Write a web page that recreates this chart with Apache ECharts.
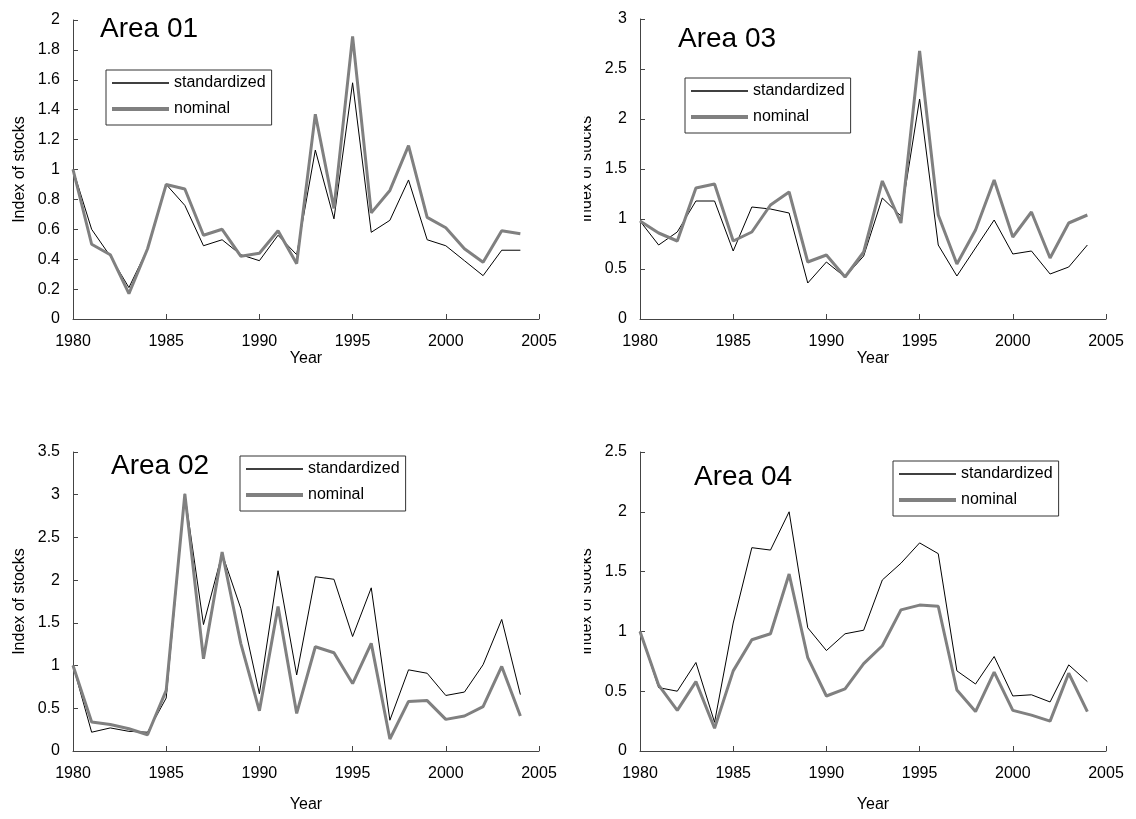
<!DOCTYPE html>
<html>
<head>
<meta charset="utf-8">
<script src="https://cdn.jsdelivr.net/npm/echarts@6/dist/echarts.min.js"></script>
<style>
html,body{margin:0;padding:0;background:#fff;}
#chart{width:1136px;height:819px;}
</style>
</head>
<body>
<div id="chart"></div>
<script>
var years = [1980,1981,1982,1983,1984,1985,1986,1987,1988,1989,1990,1991,1992,1993,1994,1995,1996,1997,1998,1999,2000,2001,2002,2003,2004];

var area01Std = [1.0,0.6,0.42,0.21,0.47,0.90,0.76,0.49,0.53,0.43,0.39,0.56,0.43,1.13,0.67,1.58,0.58,0.66,0.93,0.53,0.49,0.39,0.29,0.46,0.46];
var area01Nom = [1.0,0.50,0.43,0.17,0.47,0.90,0.87,0.56,0.60,0.42,0.44,0.59,0.37,1.37,0.74,1.89,0.71,0.86,1.16,0.68,0.61,0.47,0.38,0.59,0.57];

var area03Std = [0.98,0.74,0.87,1.18,1.18,0.68,1.12,1.10,1.06,0.36,0.57,0.42,0.63,1.21,1.03,2.20,0.74,0.43,0.71,0.99,0.65,0.68,0.45,0.52,0.74];
var area03Nom = [0.98,0.86,0.78,1.31,1.35,0.78,0.87,1.14,1.27,0.57,0.64,0.42,0.67,1.38,0.96,2.68,1.04,0.55,0.89,1.39,0.82,1.07,0.61,0.96,1.04];

var area02Std = [1.0,0.22,0.27,0.23,0.22,0.62,3.01,1.48,2.31,1.67,0.67,2.11,0.89,2.04,2.01,1.34,1.91,0.36,0.95,0.91,0.65,0.69,1.01,1.54,0.66];
var area02Nom = [1.0,0.34,0.31,0.26,0.19,0.71,3.01,1.08,2.33,1.26,0.47,1.69,0.44,1.22,1.15,0.79,1.26,0.14,0.58,0.59,0.37,0.41,0.52,0.99,0.41];

var area04Std = [1.0,0.53,0.50,0.74,0.24,1.07,1.70,1.68,2.00,1.03,0.84,0.98,1.01,1.43,1.57,1.74,1.65,0.67,0.56,0.79,0.46,0.47,0.41,0.72,0.58];
var area04Nom = [1.0,0.55,0.34,0.58,0.19,0.67,0.93,0.98,1.48,0.78,0.46,0.52,0.73,0.88,1.18,1.22,1.21,0.51,0.33,0.66,0.34,0.30,0.25,0.65,0.33];

var panelTitles = ['Area 01','Area 03','Area 02','Area 04'];
var yMax = [2, 3, 3.5, 2.5];
var yStep = [0.2, 0.5, 0.5, 0.5];
var seriesNames = ['standardized','nominal'];
var xTicks = {min:1980, max:2005, step:5};
var yName = 'Index of stocks';
var xName = 'Year';

var panelData = [[area01Std, area01Nom],[area03Std, area03Nom],[area02Std, area02Nom],[area04Std, area04Nom]];

// layout (pixels)
var grids = [
  {left:73, top:20, width:466, height:299},
  {left:640, top:19, width:466, height:300},
  {left:73, top:452, width:466, height:299},
  {left:640, top:452, width:466, height:299}
];
var xNameGap = [32, 32, 46, 46];
var titlePos = [[100,15],[678,25],[111,452],[694,463]];
var legendPos = [[106,70],[685,78],[240,456],[893,461]];

var FONT = 'Liberation Sans, Arial, sans-serif';

function pairs(arr){ return years.map(function(y,i){ return [y, arr[i]]; }); }

var option = {
  backgroundColor:'#fff',
  animation:false,
  textStyle:{fontFamily:FONT},
  grid: grids.map(function(g){ return {left:g.left, top:g.top, width:g.width, height:g.height, containLabel:false}; }),
  title: panelTitles.map(function(t,i){
    return {text:t, left:titlePos[i][0], top:titlePos[i][1], padding:0,
      textStyle:{fontSize:28, fontWeight:'normal', color:'#000', fontFamily:FONT}};
  }),
  legend: legendPos.map(function(p,i){
    return {
      data:[
        {name:seriesNames[0], icon:'path://M0,0H60V1.7H0Z', itemStyle:{color:'#000', opacity:1}},
        {name:seriesNames[1], icon:'path://M0,0H60V4.2H0Z', itemStyle:{color:'#808080', opacity:1}}
      ],
      orient:'vertical', left:p[0], top:p[1], symbolKeepAspect:true,
      padding:[5,6,8,6], itemGap:10, itemWidth:57, itemHeight:14,
      borderColor:'#333', borderWidth:1, selectedMode:false,
      textStyle:{fontSize:16, color:'#000', fontFamily:FONT}
    };
  }),
  xAxis: grids.map(function(g,i){
    return {
      type:'value', gridIndex:i, min:xTicks.min, max:xTicks.max, interval:xTicks.step,
      name:xName, nameLocation:'middle', nameGap:xNameGap[i],
      nameTextStyle:{fontSize:16, color:'#000', fontFamily:FONT},
      axisLine:{show:true, lineStyle:{color:'#444', width:1}},
      axisTick:{show:true, inside:true, length:5, lineStyle:{color:'#444'}},
      axisLabel:{fontSize:16, color:'#000', margin:15, fontFamily:FONT,
        formatter:function(v){ return String(v); }},
      splitLine:{show:false}
    };
  }),
  yAxis: grids.map(function(g,i){
    return {
      type:'value', gridIndex:i, min:0, max:yMax[i], interval:yStep[i],
      name:yName, nameLocation:'middle', nameGap:45, nameRotate:90,
      nameTextStyle:{fontSize:16, color:'#000', fontFamily:FONT},
      axisLine:{show:true, lineStyle:{color:'#444', width:1}},
      axisTick:{show:true, inside:true, length:5, lineStyle:{color:'#444'}},
      axisLabel:{fontSize:16, color:'#000', margin:13, fontFamily:FONT},
      splitLine:{show:false}
    };
  }),
  series: [],
  graphic: [
    {type:'rect', shape:{x:568, y:0, width:16, height:819}, style:{fill:'#fff'}, z:100}
  ]
};

panelData.forEach(function(pd,i){
  option.series.push({
    name:seriesNames[0], type:'line', xAxisIndex:i, yAxisIndex:i,
    data:pairs(pd[0]), symbol:'none', smooth:false,
    lineStyle:{color:'#000', width:1}, itemStyle:{color:'#000'}, z:2
  });
  option.series.push({
    name:seriesNames[1], type:'line', xAxisIndex:i, yAxisIndex:i,
    data:pairs(pd[1]), symbol:'none', smooth:false,
    lineStyle:{color:'#808080', width:3}, itemStyle:{color:'#808080'}, z:3
  });
});

var chart = echarts.init(document.getElementById('chart'), null, {renderer:'canvas'});
chart.setOption(option);
</script>
</body>
</html>
